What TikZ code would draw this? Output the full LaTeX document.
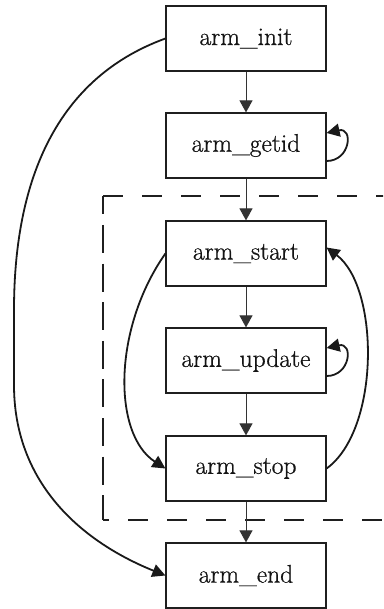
\documentclass[tikz,border=0pt]{standalone}
\usepackage{fontspec}
\newfontfamily\lblfont{Latin Modern Roman}[FakeBold=0.7]
\usetikzlibrary{arrows.meta}
\begin{document}
\begin{tikzpicture}[x=1pt,y=1pt,
  box/.style={draw=black!88, line width=1.2pt, minimum width=160pt, minimum height=65pt,
    inner sep=0pt, font=\lblfont\fontsize{25.5}{30}\selectfont, text=black!92},
  flow/.style={draw=black!80, line width=0.9pt, -{Triangle[length=12pt,width=13pt]}},
  curvy/.style={draw=black!90, line width=1.8pt, -{Triangle[length=13pt,width=13pt]}},
  frame/.style={draw=black!88, line width=1.2pt}]
\useasboundingbox (0,0) rectangle (383,-609);
\clip (0,0) rectangle (383,-609);

\node[box] (init)   at (246,-38.5)  {arm\_init};
\node[box] (getid)  at (246,-145.5) {arm\_getid};
\node[box] (start)  at (246,-253.5) {arm\_start};
\node[box] (update) at (246,-360.5) {arm\_update};
\node[box] (stop)   at (246,-468.5) {arm\_stop};
\node[box] (end)    at (246,-575.5) {arm\_end};

% dashed cluster frame
\coordinate (ftl) at (103,-196);
\coordinate (fbl) at (103,-520);
\coordinate (ftr) at (400,-196);
\coordinate (fbr) at (400,-520);
\draw[frame, dash pattern=on 19.5pt off 19.5pt] (ftl) -- (ftr);
\draw[frame, dash pattern=on 28pt off 10.6pt, dash phase=9.6pt] (ftl) -- (fbl);
\draw[frame, dash pattern=on 19.5pt off 19.5pt, dash phase=14pt] (fbl) -- (fbr);

% straight flow
\draw[flow] (init) -- (getid);
\draw[flow] (getid) -- (start);
\draw[flow] (start) -- (update);
\draw[flow] (update) -- (stop);
\draw[flow] (stop) -- (end);

% self loops
\draw[curvy] ([yshift=-15.5pt]getid.east) .. controls +(24,0) and +(27,6) .. ([yshift=12.5pt]getid.east);
\draw[curvy] ([yshift=-15.5pt]update.east) .. controls +(24,0) and +(27,6) .. ([yshift=12.5pt]update.east);

% curves
\coordinate (lw1) at (14,-310);
\coordinate (lw2) at (14,-385);
\draw[curvy] (init.west) to[out=200,in=90] (lw1) -- (lw2) to[out=-90,in=158] (end.west);
\draw[curvy] (start.west) to[out=235,in=147,out looseness=1.1,in looseness=0.75] (stop.west);
\draw[curvy] (stop.east) to[out=36,in=-37,looseness=0.77] ([yshift=6pt]start.east);
\end{tikzpicture}
\end{document}
